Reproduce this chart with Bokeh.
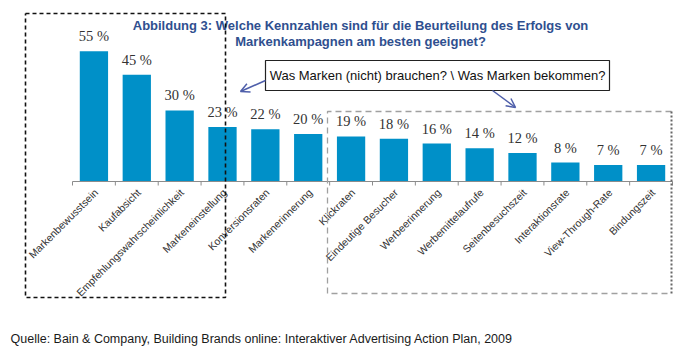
import math
from bokeh.plotting import figure
from bokeh.models import Range1d, Arrow, OpenHead
from bokeh.core.properties import value
from bokeh.embed import file_html
from bokeh.resources import INLINE

# ---- data ----
categories = ["Markenbewusstsein", "Kaufabsicht", "Empfehlungswahrscheinlichkeit",
              "Markeneinstellung", "Konversionsraten", "Markenerinnerung", "Klickraten",
              "Eindeutige Besucher", "Werbeerinnerung", "Werbemittelaufrufe",
              "Seitenbesuchszeit", "Interaktionsrate", "View-Through-Rate", "Bindungszeit"]
values = [55, 45, 30, 23, 22, 20, 19, 18, 16, 14, 12, 8, 7, 7]
value_labels = [f"{v} %" for v in values]
title_lines = ["Abbildung 3: Welche Kennzahlen sind für die Beurteilung des Erfolgs von",
               "Markenkampagnen am besten geeignet?"]
callout_text = "Was Marken (nicht) brauchen? \\ Was Marken bekommen?"
source_text = "Quelle: Bain & Company, Building Brands online: Interaktiver Advertising Action Plan, 2009"

# ---- layout (pixels) ----
W, H = 699, 354
AX_X0, AX_X1 = 72, 672      # axis extent in px
AX_Y = 181                  # axis line y (from top)
PPU_Y = 2.37                # px per percent
N = len(categories)
PPC = (AX_X1 - AX_X0) / N   # px per category

def dx(px):
    return (px - AX_X0) / PPC

def dy(py):
    return (AX_Y - py) / PPU_Y

p = figure(width=W, height=H, output_backend="svg", toolbar_location=None,
           x_range=Range1d(dx(0), dx(W)), y_range=Range1d(dy(H), dy(0)),
           min_border=0, border_fill_color="white", background_fill_color="white")
p.axis.visible = False
p.grid.visible = False
p.outline_line_color = None

xc = [i + 0.5 for i in range(N)]

# bars
p.vbar(x=xc, top=values, width=0.66, bottom=0, color="#0090C8", line_color=None)

# value labels
p.text(x=xc, y=[v + 7 / PPU_Y for v in values], text=value_labels,
       text_font=value("Liberation Serif"), text_font_size="14.5px",
       text_color="#333333", text_align="center", text_baseline="bottom")

# axis line and ticks
p.segment(x0=[0], y0=[0], x1=[N], y1=[0], line_color="#8c8c8c", line_width=1.2)
p.segment(x0=list(range(N + 1)), y0=[0] * (N + 1), x1=list(range(N + 1)),
          y1=[dy(AX_Y + 4)] * (N + 1), line_color="#8c8c8c", line_width=1)

# category labels (rotated)
p.text(x=[c + 2 / PPC for c in xc], y=[dy(AX_Y + 9)] * N, text=categories,
       angle=math.pi / 4, text_font=value("Liberation Sans"), text_font_size="10.5px",
       text_color="#333333", text_align="right", text_baseline="middle")

# title
p.text(x=[dx(360), dx(360)], y=[dy(25), dy(41)], text=title_lines,
       text_font=value("Liberation Sans"), text_font_style="bold", text_font_size="13px",
       text_color="#2F4F8F", text_align="center", text_baseline="middle")

# gray dashed box (left, top, bottom dashed; right dotted)
gx0, gx1, gy0, gy1 = dx(327), dx(671), dy(111), dy(293)
p.multi_line(xs=[[gx1, gx0, gx0, gx1]], ys=[[gy0, gy0, gy1, gy1]],
             line_color="#a0a0a0", line_width=1.3, line_dash="6 4")
p.segment(x0=[gx1], y0=[gy0], x1=[gx1], y1=[gy1], line_color="#666666",
          line_width=2, line_dash="2 2")

# callout box
p.quad(left=[dx(265)], right=[dx(609)], top=[dy(60)], bottom=[dy(90)],
       fill_color="white", line_color="#222222", line_width=1.2)
p.text(x=[dx(437)], y=[dy(75)], text=[callout_text],
       text_font=value("Liberation Sans"), text_font_size="13px",
       text_color="#111111", text_align="center", text_baseline="middle")

# arrows
p.add_layout(Arrow(x_start=dx(265), y_start=dy(80), x_end=dx(240), y_end=dy(91),
                   line_color="#4F5FAA", line_width=1.5,
                   end=OpenHead(size=9, line_color="#4F5FAA", line_width=1.5)))
p.add_layout(Arrow(x_start=dx(492), y_start=dy(90), x_end=dx(515), y_end=dy(107),
                   line_color="#4F5FAA", line_width=1.5,
                   end=OpenHead(size=9, line_color="#4F5FAA", line_width=1.5)))

# black dashed box
bx0, bx1, by0, by1 = dx(25), dx(225), dy(13), dy(297)
p.multi_line(xs=[[bx0, bx1, bx1, bx0, bx0]], ys=[[by0, by0, by1, by1, by0]],
             line_color="#111111", line_width=1.6, line_dash="4 3")

# source
p.text(x=[dx(10)], y=[dy(338)], text=[source_text],
       text_font=value("Liberation Sans"), text_font_size="12.5px",
       text_color="#1a1a1a", text_align="left", text_baseline="middle")

open("out.html", "w").write(file_html(p, INLINE))
